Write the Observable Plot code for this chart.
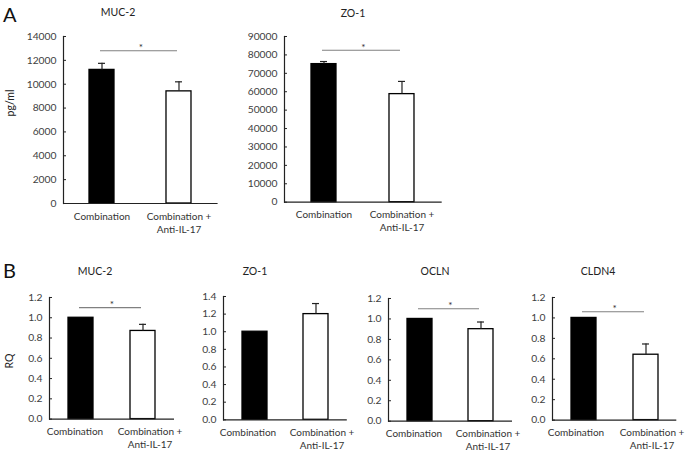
<!DOCTYPE html>
<html>
<head>
<meta charset="utf-8">
<script src="https://cdn.jsdelivr.net/npm/d3@7"></script>
<script src="https://cdn.jsdelivr.net/npm/@observablehq/plot@0.6"></script>
<style>
  html, body { margin: 0; padding: 0; background: #fff; }
  #root { position: relative; width: 685px; height: 453px; overflow: hidden; font-family: Lato, "Open Sans", sans-serif; }
  .abs { position: absolute; white-space: nowrap; }
  .lbl { transform: translate(-50%, -50%); }
</style>
</head>
<body>
<div id="root"></div>
<script>
// ---- data ----
const categories = ["Combination", "Combination +\nAnti-IL-17"];
const panelTitles = ["MUC-2", "ZO-1", "MUC-2", "ZO-1", "OCLN", "CLDN4"];
const means = [
  [11200, 9400],
  [75000, 58700],
  [1.0, 0.87],
  [1.0, 1.2],
  [1.0, 0.9],
  [1.0, 0.64]
];
const errors = [
  [550, 800],
  [1400, 6900],
  [0, 0.065],
  [0, 0.12],
  [0, 0.07],
  [0, 0.105]
];
const significance = [12800, 82500, 1.1, null, 1.1, 1.06];
const yTicks = [
  [0, 2000, 4000, 6000, 8000, 10000, 12000, 14000],
  [0, 10000, 20000, 30000, 40000, 50000, 60000, 70000, 80000, 90000],
  [0, 0.2, 0.4, 0.6, 0.8, 1.0, 1.2],
  [0, 0.2, 0.4, 0.6, 0.8, 1.0, 1.2, 1.4],
  [0, 0.2, 0.4, 0.6, 0.8, 1.0, 1.2],
  [0, 0.2, 0.4, 0.6, 0.8, 1.0, 1.2]
];
const tickFormats = ["d", "d", ".1f", ".1f", ".1f", ".1f"];
const sectionLabels = ["A", "B"];
const yLabels = ["pg/ml", "RQ"];

// ---- layout (page pixel frame of each panel) ----
const layout = [
  {l: 62.7, t: 35.7, r: 217.3, b: 202.7, tx: 118, ty: 12, sh: [0, 0]},
  {l: 284.3, t: 36, r: 442, b: 201.7, tx: 353, ty: 13, sh: [0, 0]},
  {l: 49, t: 296.7, r: 174, b: 418.3, tx: 95, ty: 271, sh: [-6, 7]},
  {l: 222.7, t: 296, r: 346.5, b: 419.3, tx: 255, ty: 271, sh: [-7, 6]},
  {l: 388.3, t: 298, r: 512.3, b: 420.7, tx: 435, ty: 271, sh: [-6, 7]},
  {l: 551.7, t: 296.7, r: 676, b: 419.3, tx: 598, ty: 271, sh: [-8, 6]}
];

const root = document.getElementById("root");
const FONT = "Lato, 'Open Sans', sans-serif";
const mL = 60, mR = 12, mT = 12, mB = 42;
const barW = 25;

panelTitles.forEach((title, i) => {
  const g = layout[i];
  const fw = g.r - g.l, fh = g.b - g.t;
  const pad = 1 - (2 * barW) / fw;
  const yMax = yTicks[i][yTicks[i].length - 1];
  const data = categories.map((c, j) => ({cat: c, mean: means[i][j], err: errors[i][j], j}));
  const fmt = d3.format(tickFormats[i]);
  const marks = [
    Plot.barY(data, {x: "cat", y: "mean", fill: d => d.j === 0 ? "black" : "white", stroke: "#000", strokeWidth: 1.3}),
    Plot.ruleX(data.filter(d => d.err > 0), {x: "cat", y1: "mean", y2: d => d.mean + d.err, stroke: "#222", strokeWidth: 1.2}),
    Plot.tickY(data.filter(d => d.err > 0), {x: "cat", y: d => d.mean + d.err, stroke: "#222", strokeWidth: 1.2, insetLeft: 9, insetRight: 9}),
    Plot.ruleY([0], {stroke: "#222", strokeWidth: 1.2}),
    Plot.frame({anchor: "left", stroke: "#222", strokeWidth: 1.2}),
    Plot.tickY(yTicks[i], {y: d => d, stroke: "#222", strokeWidth: 1, insetRight: fw - 3}),
    Plot.text(yTicks[i], {y: d => d, text: d => fmt(d), frameAnchor: "left", textAnchor: "end", dx: -7, fontSize: 10.3, fill: "#404040"})
  ];
  categories.forEach((c, j) => {
    marks.push(Plot.text([c], {x: d => d, text: d => d, frameAnchor: "bottom", lineAnchor: "top", dy: 7, dx: g.sh[j], lineHeight: 1.3, fontSize: 10, fill: "#333"}));
  });
  if (significance[i] != null) {
    marks.push(Plot.link([significance[i]], {x1: () => categories[0], x2: () => categories[1], y1: d => d, y2: d => d, dx: -2, stroke: "#808080", strokeWidth: 1.1}));
    marks.push(Plot.text([significance[i]], {y: d => d, text: () => "*", frameAnchor: "middle", dy: -3, fontSize: 10, fill: "#333"}));
  }
  const svg = Plot.plot({
    width: fw + mL + mR,
    height: fh + mT + mB,
    marginLeft: mL, marginRight: mR, marginTop: mT, marginBottom: mB,
    x: {domain: categories, paddingInner: pad, paddingOuter: pad / 2, axis: null},
    y: {domain: [0, yMax], axis: null},
    style: {fontFamily: FONT, background: "transparent", overflow: "visible"},
    marks
  });
  svg.style.position = "absolute";
  svg.style.left = (g.l - mL) + "px";
  svg.style.top = (g.t - mT) + "px";
  root.appendChild(svg);

  const t = document.createElement("div");
  t.className = "abs lbl";
  t.textContent = title;
  t.style.cssText += `left:${g.tx}px;top:${g.ty}px;font-size:10.5px;color:#222;`;
  root.appendChild(t);
});

const secPos = [[3, 14], [3, 270]];
sectionLabels.forEach((s, k) => {
  const d = document.createElement("div");
  d.className = "abs";
  d.textContent = s;
  d.style.cssText += `left:${secPos[k][0]}px;top:${secPos[k][1]}px;font-size:20px;color:#111;transform:translateY(-50%);`;
  root.appendChild(d);
});

const ylPos = [[10, 103], [9, 361]];
yLabels.forEach((s, k) => {
  const d = document.createElement("div");
  d.className = "abs";
  d.textContent = s;
  d.style.cssText += `left:${ylPos[k][0]}px;top:${ylPos[k][1]}px;font-size:10.5px;color:#222;transform:translate(-50%,-50%) rotate(-90deg);`;
  root.appendChild(d);
});
</script>
</body>
</html>
